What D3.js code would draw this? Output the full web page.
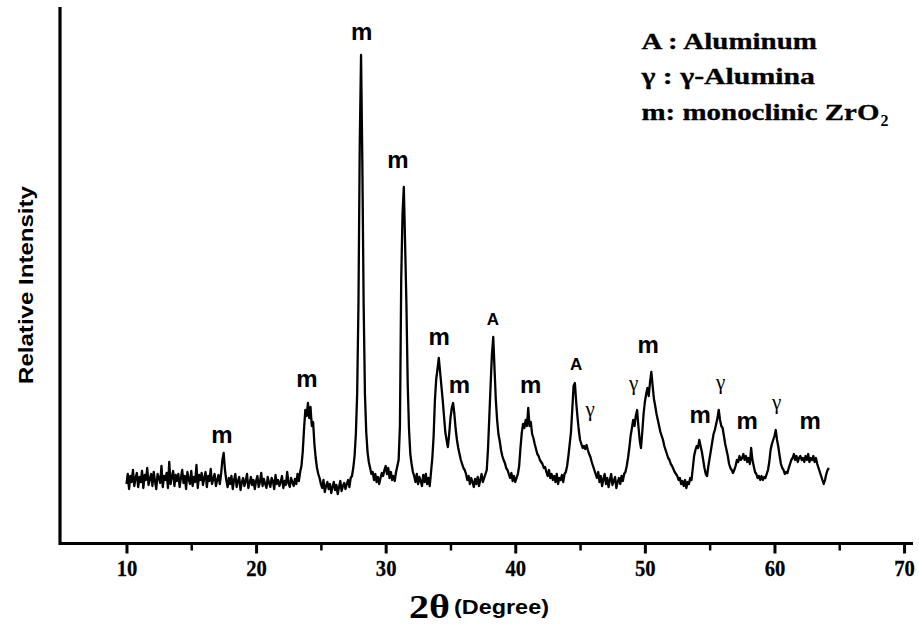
<!DOCTYPE html>
<html><head><meta charset="utf-8">
<script src="https://cdn.jsdelivr.net/npm/d3@7"></script>
<style>body{margin:0;background:#fff}svg{display:block}</style>
</head><body>
<svg id="c" width="919" height="624"></svg>
<script>
// ---- data (2θ grid starts at 10.0°, step 0.1°) ----
const startAngle = 10.0;
const stepTenths = 1; // 0.1° per sample
const intensity = [
 60,70,55,68,62,74,58,66,71,57,
 67,62,73,56,69,64,76,59,65,70,
 58,72,63,55,70,66,61,78,57,68,
 64,71,56,82,60,67,73,58,69,63,
 70,57,66,74,61,68,55,72,65,60,
 73,58,67,62,79,56,69,64,71,59,
 66,72,57,68,63,75,60,65,70,58,
 64,69,60,70,84,91,74,64,57,66,
 60,68,55,64,70,57,63,67,54,62,
 66,58,63,70,56,61,67,59,64,55,
 63,68,57,62,71,58,65,60,56,67,
 61,57,66,63,55,69,60,64,58,62,
 68,56,63,59,72,61,57,66,62,58,
 65,60,70,63,72,78,92,115,134,128,
 141,126,137,118,122,100,86,76,70,66,
 60,56,64,52,58,62,55,60,51,57,
 62,54,59,50,57,63,53,58,61,55,
 60,64,57,66,68,76,88,110,150,240,
 400,489,380,240,150,112,92,82,76,70,
 72,64,70,62,67,60,66,71,68,74,
 78,70,76,66,72,64,68,63,72,78,
 84,118,265,330,357,300,240,160,115,90,
 80,72,68,62,70,60,67,63,58,69,
 62,70,60,66,58,72,86,108,144,165,
 175,186,172,158,144,128,112,104,97,110,
 126,136,141,130,115,104,96,90,84,80,
 76,74,70,64,68,60,66,62,57,65,
 60,67,58,64,70,62,66,70,74,96,
 128,160,190,207,175,144,124,110,103,94,
 88,84,81,76,74,70,66,71,63,68,
 62,66,70,78,96,111,120,116,124,118,
 136,118,122,110,106,100,95,90,88,84,
 82,80,76,77,72,68,74,66,70,64,
 68,62,70,60,66,64,69,62,70,72,
 78,88,100,112,135,158,161,142,127,114,
 104,100,96,98,95,99,94,90,87,82,
 78,74,70,66,72,62,68,58,65,70,
 60,66,57,64,70,59,63,67,56,62,
 66,60,68,63,70,72,78,86,96,108,
 116,124,118,128,134,118,104,96,112,130,
 142,150,156,148,162,172,158,145,138,130,
 124,118,112,108,104,98,94,90,86,84,
 80,78,75,72,70,68,64,66,60,63,
 58,64,56,62,60,66,64,76,88,94,
 98,96,104,98,92,84,76,70,68,78,
 86,94,102,110,114,120,126,134,124,118,
 116,108,100,94,88,80,76,74,71,74,
 78,84,82,88,84,86,90,84,88,82,
 86,80,96,84,78,72,70,66,68,64,
 68,64,67,66,70,74,82,94,100,104,
 108,114,104,97,88,80,76,74,70,72,
 71,76,80,84,86,90,84,88,82,86,
 88,84,86,82,88,84,90,82,86,84,
 88,82,86,80,76,72,68,64,60,64,
 70,74,76
];
const xTicks = [10,20,30,40,50,60,70];
const xMinorTicks = [15,25,35,45,55,65];
const peakLabels  = ["m","m","m","m","m","m","A","m","A","γ","γ","m","m","γ","m","γ","m"];
const peakAngles  = [17.37,23.93,28.14,30.95,34.12,35.70,38.28,41.18,44.69,45.77,49.13,50.25,54.26,55.84,57.89,60.16,62.75];
const peakLabelLevels = [101,157,504,376,199,151,219,151,174,128,154,191,121,155,115,135,115];
const legendLines = ["A : Aluminum","γ : γ-Alumina","m: monoclinic ZrO"];
const legendSub = ["","","2"];
const xTitleMain = "2θ", xTitleUnit = "(Degree)", yTitle = "Relative Intensity";

// ---- chart ----
const svg = d3.select("#c");
const x = d3.scaleLinear().domain([4.87, 70.69]).range([60, 913]);
const y = d3.scaleLinear().domain([0, 537]).range([544, 7]);

const pts = intensity.map((v,i)=>({a:(startAngle*10 + i*stepTenths)/10, v}));
const line = d3.line().x(d=>x(d.a)).y(d=>y(d.v));
svg.append("path").datum(pts).attr("d",line)
  .attr("fill","none").attr("stroke","#000").attr("stroke-width",2.3).attr("stroke-linejoin","round");

// axes
const serif = "'Liberation Serif','Times New Roman',serif";
const sans = "'Liberation Sans',Arial,sans-serif";
const gx = svg.append("g").attr("transform","translate(0,543.5)");
gx.call(d3.axisBottom(x).tickValues(xTicks).tickSize(10).tickFormat(d3.format("d")));
gx.select(".domain").remove();
gx.selectAll(".tick line").attr("stroke","#000").attr("stroke-width",3);
gx.selectAll(".tick text").attr("y",33).attr("dy",0).attr("transform","scale(0.86,1)")
  .style("font-family",serif).style("font-weight","bold").style("font-size","24px")
  .attr("fill","#000").attr("stroke","#000").attr("stroke-width",0.3);
const gm = svg.append("g").attr("transform","translate(0,543.5)");
gm.call(d3.axisBottom(x).tickValues(xMinorTicks).tickSize(7).tickFormat(""));
gm.select(".domain").remove();
gm.selectAll(".tick line").attr("stroke","#000").attr("stroke-width",2.5);

svg.append("path").attr("d",`M60,7V${543.5}H913`).attr("fill","none")
  .attr("stroke","#000").attr("stroke-width",3.2);

// helper to stretch text horizontally to match a target width
function fit(g, target){
  const t = g.select("text").node();
  const w = t.getComputedTextLength();
  const s = target / w;
  g.attr("transform",`translate(${g.attr("data-tx")},${g.attr("data-ty")}) scale(${s},1)`);
}

// peak labels
peakLabels.forEach((lab,i)=>{
  const t = svg.append("text")
    .attr("x",x(peakAngles[i])).attr("y",y(peakLabelLevels[i]))
    .attr("text-anchor","middle").attr("fill","#000").text(lab);
  if(lab==="m") t.style("font-family",sans).style("font-weight","bold").style("font-size","24px");
  else if(lab==="A") t.style("font-family",sans).style("font-weight","bold").style("font-size","17px");
  else t.style("font-family",serif).style("font-size","21px");
});

// legend
const legendBase = [49, 84, 120];
const legendW = [175.5, 173.5, 238];
legendLines.forEach((s,i)=>{
  const g = svg.append("g").attr("data-tx",641.5).attr("data-ty",legendBase[i]);
  g.append("text").attr("x",0).attr("y",0)
    .style("font-family",serif).style("font-weight","bold").style("font-size","24px")
    .attr("fill","#000").attr("stroke","#000").attr("stroke-width",0.3).text(s);
  fit(g, legendW[i]);
  if(legendSub[i]){
    svg.append("text").attr("x",641.5+legendW[i]+1).attr("y",legendBase[i]+6)
      .style("font-family",serif).style("font-weight","bold").style("font-size","16px").attr("fill","#000")
      .text(legendSub[i]);
  }
});

// axis titles
const gt = svg.append("g").attr("data-tx",409).attr("data-ty",618);
gt.append("text").style("font-family",serif).style("font-weight","bold").style("font-size","34px").attr("fill","#000").text(xTitleMain);
fit(gt, 41);
const gu = svg.append("g").attr("data-tx",454).attr("data-ty",614);
gu.append("text").style("font-family",sans).style("font-weight","bold").style("font-size","20px").attr("fill","#000").text(xTitleUnit);
fit(gu, 95);

const yt = svg.append("text")
  .attr("text-anchor","middle").style("font-family",sans).style("font-weight","bold").style("font-size","21px")
  .attr("fill","#000").text(yTitle);
const yw = yt.node().getComputedTextLength();
yt.attr("transform",`translate(33,285) rotate(-90) scale(${198/yw},1)`);
</script>
</body></html>
